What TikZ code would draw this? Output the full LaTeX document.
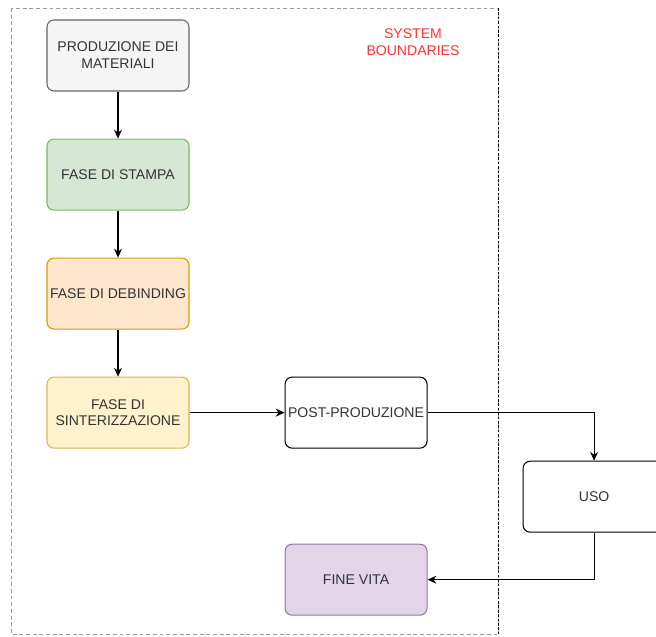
\documentclass[tikz,border=0pt]{standalone}
\usepackage{fontspec}
\setmainfont{Liberation Sans}
\usetikzlibrary{arrows.meta,positioning}
\definecolor{phasetext}{HTML}{333333}
\definecolor{grayfill}{HTML}{F5F5F5}
\definecolor{grayline}{HTML}{666666}
\definecolor{greenfill}{HTML}{D5E8D4}
\definecolor{greenline}{HTML}{82B366}
\definecolor{orangefill}{HTML}{FFE6CC}
\definecolor{orangeline}{HTML}{D79B00}
\definecolor{yellowfill}{HTML}{FFF2CC}
\definecolor{yellowline}{HTML}{D6B656}
\definecolor{purplefill}{HTML}{E1D5E7}
\definecolor{purpleline}{HTML}{9673A6}
\definecolor{boundred}{HTML}{FF3333}
\definecolor{boundgray}{HTML}{9A9A9A}
\tikzset{
  phase/.style 2 args={
    draw=#1,
    fill=#2,
    line width=0.6pt,
    rounded corners=4pt,
    inner xsep=0.5pt,
    minimum width=2.84cm,
    minimum height=1.42cm,
    align=center,
    text=phasetext,
    font=\fontsize{8}{9.6}\selectfont
  },
  flow/.style={-{Stealth[length=5pt,width=4.5pt]},line width=0.6pt,draw=black},
  boundary/.style={draw=boundgray,line width=0.5pt,dash pattern=on 2.2pt off 1.6pt}
}
\begin{document}
\begin{tikzpicture}[node distance=0.94cm and 1.9cm]
  \clip (0,0) rectangle (13.12,-12.74);

  \coordinate (bnw) at (0.22,-0.16);
  \coordinate (bse) at (9.96,-12.68);
  \draw[boundary] (bnw) rectangle (bse);
  \draw[black,line width=0.5pt,dash pattern=on 1.5pt off 1pt] (bnw -| bse) -- (bse);
  \node[text=boundred,align=center,font=\fontsize{8}{9.6}\selectfont] (bound) at (8.26,-0.84) {SYSTEM\\BOUNDARIES};

  \node[phase={grayline}{grayfill}] (materiali) at (2.36,-1.11) {PRODUZIONE DEI\\MATERIALI};
  \node[phase={greenline}{greenfill}, below=of materiali] (stampa) {FASE DI STAMPA};
  \node[phase={orangeline}{orangefill}, below=of stampa] (debinding) {FASE DI DEBINDING};
  \node[phase={yellowline}{yellowfill}, below=of debinding] (sinter) {FASE DI\\SINTERIZZAZIONE};
  \node[phase={black}{white}, right=of sinter] (post) {POST-PRODUZIONE};
  \node[phase={black}{white}, below right=0.24cm and 1.9cm of post] (uso) {USO};
  \node[phase={purpleline}{purplefill}, below=1.9cm of post] (finevita) {FINE VITA};

  \draw[flow] (materiali) -- (stampa);
  \draw[flow] (stampa) -- (debinding);
  \draw[flow] (debinding) -- (sinter);
  \draw[flow] (sinter) -- (post);
  \draw[flow] (post.east) -| (uso.north);
  \draw[flow] (uso.south) |- (finevita.east);
\end{tikzpicture}
\end{document}
